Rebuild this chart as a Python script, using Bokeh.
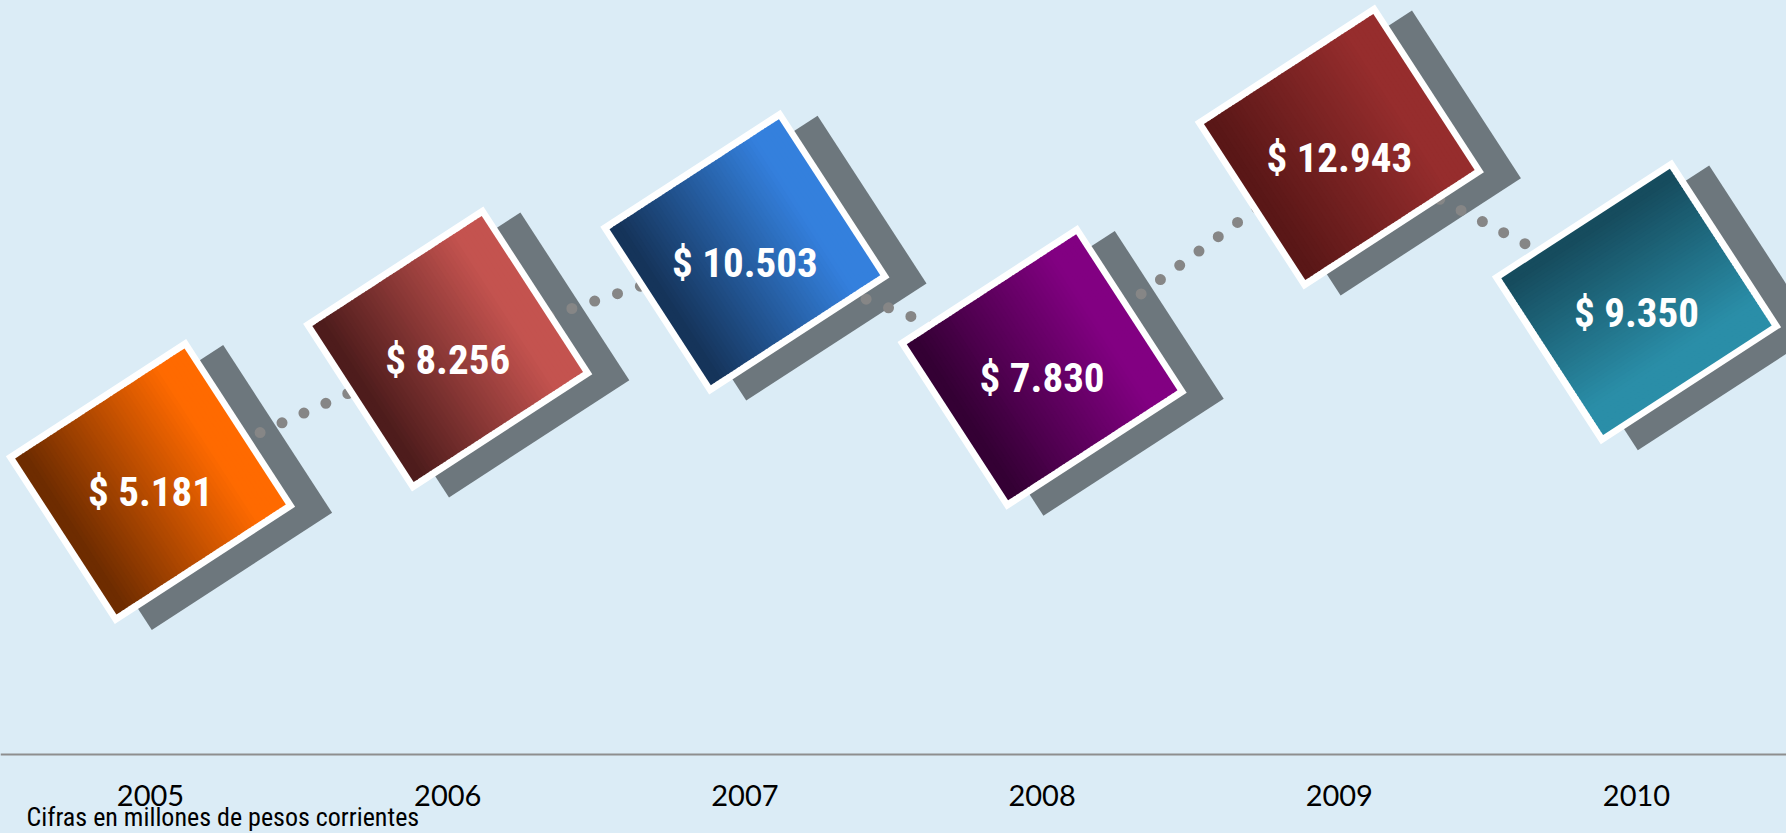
import numpy as np
from bokeh.plotting import figure
from bokeh.models import ColumnDataSource, Range1d, Label, Span, GlobalInlineStyleSheet
from bokeh.embed import file_html
from bokeh.resources import INLINE
from bokeh.core.properties import value

# ---------------- data ----------------
years = ["2005", "2006", "2007", "2008", "2009", "2010"]
amounts = [5181, 8256, 10503, 7830, 12943, 9350]
amount_labels = ["$ 5.181", "$ 8.256", "$ 10.503", "$ 7.830", "$ 12.943", "$ 9.350"]
footnote = "Cifras en millones de pesos corrientes"

# ---------------- style ----------------
dark_colors = ["#6E2C00", "#4E1C1C", "#15345A", "#340034", "#5A1717", "#164C5E"]
light_colors = ["#FF6A00", "#C4534F", "#3480DD", "#820082", "#962D2D", "#2A8EA8"]
gradient_dir = ["u", "u", "u", "u", "u", "v"]
BG = "#DBECF6"
SHADOW = "#6D777D"
DOTS = "#868686"
NARROW = "Roboto Condensed, Open Sans Condensed, Liberation Sans"

W, H = 1786, 833
X0, X1 = -0.5047, 5.5047
Y0, Y1 = -2989, 16343
AXIS_VAL = -1156
PX_X = W / (X1 - X0)
PX_Y = H / (Y1 - Y0)

ANG = np.deg2rad(33)
OUT_W, OUT_H = 215, 200
BORDER = 7
IN_W, IN_H = OUT_W - 2 * BORDER, OUT_H - 2 * BORDER
SH_DX, SH_DY = 37, -6   # screen px, y up
N = 48

ux, uy = np.cos(ANG), np.sin(ANG)
vx, vy = -np.sin(ANG), np.cos(ANG)

xi = list(range(len(years)))


def hex2rgb(h):
    h = h.lstrip("#")
    return np.array([int(h[i:i + 2], 16) for i in (0, 2, 4)], dtype=float)


def rgb2hex(c):
    c = np.clip(np.round(c), 0, 255).astype(int)
    return "#%02x%02x%02x" % tuple(c)


shadow_src = ColumnDataSource(dict(
    x=[i + SH_DX / PX_X for i in xi],
    y=[a + SH_DY / PX_Y for a in amounts],
))
frame_src = ColumnDataSource(dict(x=xi, y=amounts))

sx, sy, sw, sh, sc = [], [], [], [], []
for i, amt in enumerate(amounts):
    d0, d1 = hex2rgb(dark_colors[i]), hex2rgb(light_colors[i])
    for k in range(N):
        t = (k + 0.5) / N
        f = np.clip((t - 0.05) / 0.8, 0, 1)
        col = rgb2hex(d0 + (d1 - d0) * f)
        if gradient_dir[i] == "u":
            off = (t - 0.5) * IN_W
            ox, oy = ux * off, uy * off
            w, h = IN_W / N + 1.0, IN_H
        else:
            off = (0.5 - t) * IN_H
            ox, oy = vx * off, vy * off
            w, h = IN_W, IN_H / N + 1.0
        sx.append(i + ox / PX_X)
        sy.append(amt + oy / PX_Y)
        sw.append(w)
        sh.append(h)
        sc.append(col)
strip_src = ColumnDataSource(dict(x=sx, y=sy, w=sw, h=sh, c=sc))
label_src = ColumnDataSource(dict(x=xi, y=amounts, t=amount_labels))
year_src = ColumnDataSource(dict(x=xi, y=[AXIS_VAL] * len(xi), t=years))

p = figure(width=W, height=H, output_backend="svg", toolbar_location=None,
           x_range=Range1d(X0, X1), y_range=Range1d(Y0, Y1),
           min_border=0, x_axis_location=None, y_axis_location=None)
p.background_fill_color = BG
p.border_fill_color = BG
p.outline_line_color = None
p.grid.visible = False

# category axis line
p.add_layout(Span(location=AXIS_VAL, dimension="width", line_color="#8E8E8E", line_width=2))

# shadows
p.rect(x="x", y="y", width=OUT_W, height=OUT_H, angle=ANG,
       width_units="screen", height_units="screen",
       fill_color=SHADOW, line_color=None, source=shadow_src)

# dotted connecting line
p.line(xi, amounts, line_color=DOTS, line_width=11, line_dash="0 24", line_cap="round")

# white frames
p.rect(x="x", y="y", width=OUT_W, height=OUT_H, angle=ANG,
       width_units="screen", height_units="screen",
       fill_color="white", line_color=None, source=frame_src)

# gradient fill
p.rect(x="x", y="y", width="w", height="h", angle=ANG,
       width_units="screen", height_units="screen",
       fill_color="c", line_color=None, source=strip_src)

# value labels
p.text(x="x", y="y", text="t", source=label_src, text_align="center",
       text_baseline="middle", y_offset=11, text_color="white",
       text_font=value(NARROW), text_font_style="bold", text_font_size="41px")

# category labels
p.text(x="x", y="y", text="t", source=year_src, text_align="center",
       text_baseline="middle", y_offset=41, text_color="black",
       text_font=value("Lato"), text_font_size="29px")

p.add_layout(Label(x=26, y=17, x_units="screen", y_units="screen",
                   text=footnote, text_font=NARROW,
                   text_font_size="26px", text_color="black",
                   text_baseline="alphabetic", text_align="left"))

p.stylesheets = [GlobalInlineStyleSheet(css="html, body { margin: 0 !important; padding: 0; background: %s; overflow: hidden; }" % BG)]

open("out.html", "w").write(file_html(p, INLINE))
